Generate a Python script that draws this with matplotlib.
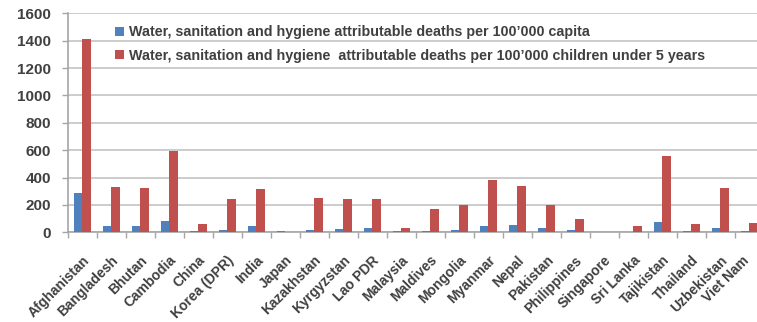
import numpy as np
import matplotlib.pyplot as plt
from matplotlib.ticker import MultipleLocator, FixedLocator
from matplotlib.transforms import ScaledTranslation

countries = ["Afghanistan", "Bangladesh", "Bhutan", "Cambodia", "China", "Korea (DPR)",
             "India", "Japan", "Kazakhstan", "Kyrgyzstan", "Lao PDR", "Malaysia",
             "Maldives", "Mongolia", "Myanmar", "Nepal", "Pakistan", "Philippines",
             "Singapore", "Sri Lanka", "Tajikistan", "Thailand", "Uzbekistan", "Viet Nam"]
per_capita = [285, 46, 46, 83, 12, 17, 46, 8, 15, 25, 35, 8,
              12, 20, 46, 55, 35, 15, 1, 5, 75, 12, 30, 8]
per_child = [1410, 329, 321, 596, 61, 243, 316, 2, 253, 245, 245, 31,
             170, 199, 382, 341, 199, 95, 1, 44, 555, 58, 326, 68]

label_capita = "Water, sanitation and hygiene attributable deaths per 100\u2019000 capita"
label_child = "Water, sanitation and hygiene  attributable deaths per 100\u2019000 children under 5 years"

blue = "#4F81BD"
red = "#C0504D"
grey = "#A6A6A6"
text_col = "#404040"

plt.rcParams['font.family'] = ['Liberation Sans', 'DejaVu Sans']

fig = plt.figure(figsize=(7.57, 3.22), dpi=100)
n = len(countries)
# plot area runs past the right edge, as in the cropped original
left = 67.7 / 757
width = (29.0 * n) / 757
ax = fig.add_axes([left, 89.7 / 322, width, 219.0 / 322])

x = np.arange(n)
w = 0.29
ax.bar(x - w / 2, per_capita, width=w, color=blue, label=label_capita, zorder=3)
ax.bar(x + w / 2, per_child, width=w, color=red, label=label_child, zorder=3)

ax.set_xlim(-0.5, n - 0.5)
ax.set_ylim(0, 1600)
ax.yaxis.set_major_locator(MultipleLocator(200))
ax.grid(axis='y', color='#C8C8C8', linewidth=1.3, zorder=0)

for s in ['top', 'right']:
    ax.spines[s].set_visible(False)
for s in ['left', 'bottom']:
    ax.spines[s].set_color(grey)
    ax.spines[s].set_linewidth(1.2)

ax.set_xticks(x)
ax.set_xticklabels(countries, rotation=45, ha='right', rotation_mode='anchor',
                   fontsize=10, color=text_col)
ax.xaxis.set_minor_locator(FixedLocator(np.arange(n + 1) - 0.5))
ax.tick_params(axis='x', which='major', length=0, pad=15)
ax.tick_params(axis='x', which='minor', length=4, color=grey, width=1)
ax.tick_params(axis='y', length=4, color=grey, width=1, labelsize=11,
               labelcolor=text_col, pad=8)

# tick_params resets label transforms, so nudge labels only after it
for t in ax.get_xticklabels():
    t.set_fontweight('bold')
    if t.get_text() == countries[-1]:
        # last label sits at the cropped right edge
        t.set_transform(t.get_transform() + ScaledTranslation(-7 / 100, 0, fig.dpi_scale_trans))
for t in ax.get_yticklabels():
    t.set_fontweight('bold')

leg = ax.legend(loc='upper left', bbox_to_anchor=(0.06, 0.972), frameon=False,
                fontsize=10.3, handlelength=0.6, handleheight=0.6, handletextpad=0.4,
                labelspacing=0.68, borderaxespad=0)
for t in leg.get_texts():
    t.set_color(text_col)
    t.set_fontweight('bold')

fig.savefig("out.png", dpi=100)
